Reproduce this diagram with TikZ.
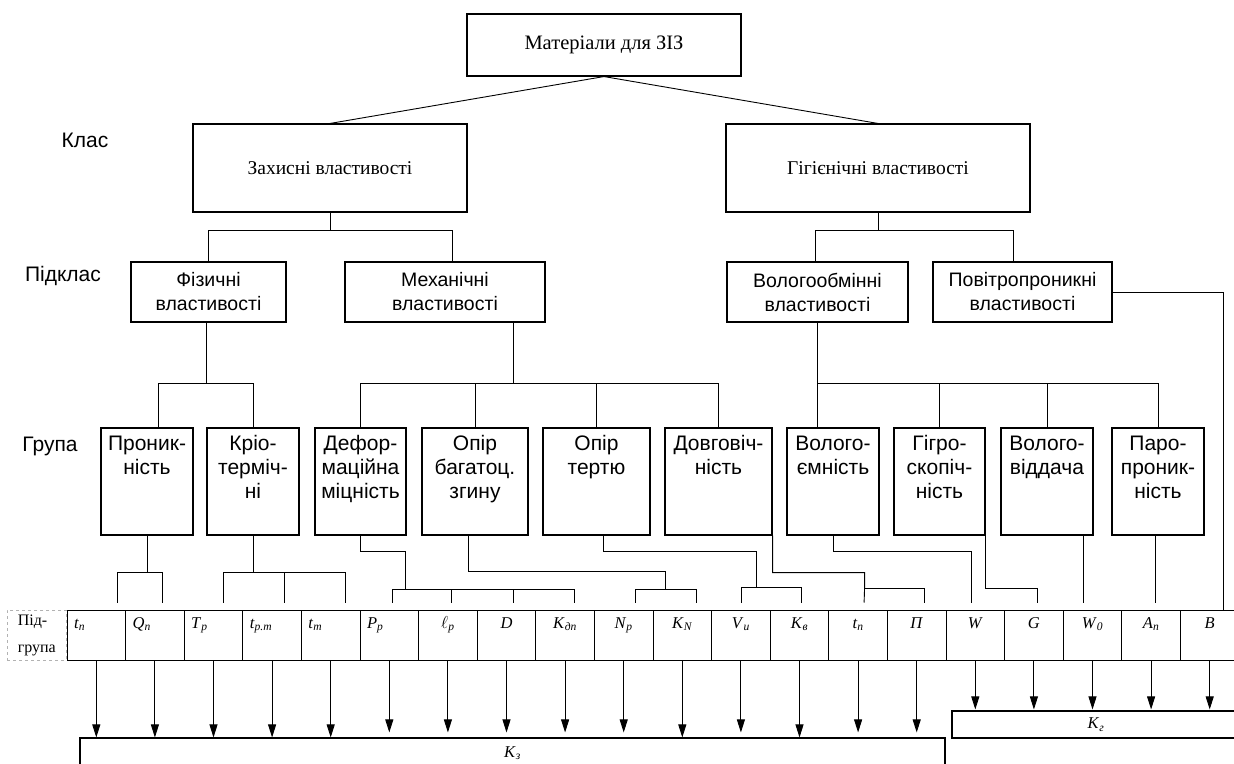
\documentclass[tikz,border=0pt]{standalone}
\usepackage{fontspec}
\setmainfont{Liberation Serif}
\newfontfamily\sansf{Liberation Sans}
\usetikzlibrary{arrows.meta,positioning}
\newcommand{\ps}[2]{\textit{#1}\textsubscript{\textit{#2}}}

\begin{document}
\begin{tikzpicture}[
    x=1pt,y=-1pt,
    box/.style={rectangle,draw,line width=1.1pt,align=center,inner sep=2pt},
    topbox/.style={box,minimum height=62pt,font=\fontsize{20.5}{24}\selectfont},
    clsbox/.style={box,minimum height=88pt,font=\fontsize{19.5}{24}\selectfont},
    subbox/.style={box,minimum height=60pt,font=\sansf\fontsize{19.5}{24}\selectfont},
    grpbox/.style={box,minimum height=107pt},
    grptxt/.style={anchor=north,align=center,inner sep=0pt,yshift=-8pt,
      font=\sansf\fontsize{21}{24}\selectfont},
    side/.style={font=\sansf\fontsize{21}{24}\selectfont},
    cell/.style={rectangle,draw,line width=1pt,text width=44.6pt,inner xsep=7pt,
      text height=11pt,text depth=25pt,inner ysep=7pt,align=center,
      font=\fontsize{16.5}{18}\selectfont},
    cellL/.style={cell,align=left},
    link/.style={line width=0.9pt},
    arrow/.style={-{Triangle[length=13pt,width=8pt]},line width=0.9pt}
  ]
    \useasboundingbox (0,0) rectangle (1234,763);

    \node[topbox,minimum width=274pt] (mat) at (604,45) {Матеріали для ЗІЗ};
    \node[clsbox,minimum width=274pt] (zakh) at (330,168) {Захисні властивості};
    \node[clsbox,minimum width=304pt] (gig) at (878,168) {Гігієнічні властивості};

    \node[side] (klas) at (85,140) {Клас};
    \node[side] (pidklas) at (63,276) {Підклас};
    \node[side] (grupa) at (50,446) {Група};

    \node[subbox,minimum width=155pt] (fiz) at (208.5,292) {Фізичні\\властивості};
    \node[subbox,minimum width=200pt] (mekh) at (445,292) {Механічні\\властивості};
    \node[subbox,minimum width=181pt] (volog) at (817.5,292) {Вологообмінні\\властивості};
    \node[subbox,minimum width=179pt] (povitr) at (1022.5,292) {Повітропроникні\\властивості};

    % groups
    \foreach \n/\x/\w/\t in {pron/147/92/{Проник-\\ність},
        krio/253/92/{Кріо-\\терміч-\\ні},
        def/360.5/91/{Дефор-\\маційна\\міцність},
        opir/475/106/{Опір\\багатоц.\\згину},
        tert/596.5/107/{Опір\\тертю},
        dovg/718.5/107/{Довговіч-\\ність},
        vol/833/92/{Волого-\\ємність},
        gigro/939.5/91/{Гігро-\\скопіч-\\ність},
        vidd/1047/92/{Волого-\\віддача},
        paro/1158/92/{Паро-\\проник-\\ність}}{
      \node[grpbox,minimum width=\w pt] (\n) at (\x,481.5) {};
      \node[grptxt] (\n-t) at (\n.north) {\t};
    }

    % subgroups
    \foreach \i/\s/\t in {1/cellL/{\ps{t}{п}},2/cellL/{\ps{Q}{п}},3/cellL/{\ps{T}{р}},
        4/cellL/{\ps{t}{р.т}},5/cellL/{\ps{t}{т}},6/cellL/{\ps{P}{р}},
        7/cell/{\ps{$\ell$}{р}},8/cell/{\textit{D}},9/cell/{\ps{K}{дп}},
        10/cell/{\ps{N}{р}},11/cell/{\ps{K}{N}},12/cell/{\ps{V}{u}},
        13/cell/{\ps{K}{в}},14/cell/{\ps{t}{п}},15/cell/{\textit{П}},
        16/cell/{\textit{W}},17/cell/{\textit{G}},18/cell/{\ps{W}{0}},
        19/cell/{\ps{A}{п}},20/cell/{\textit{B}}}
      \node[\s] (c\i) at ({67+58.6*\i-29.3},635) {\t};
    \node[draw=gray!60,dashed,minimum width=59pt,minimum height=50pt,align=left,
      font=\fontsize{16}{27}\selectfont,left=0pt of c1] (pidgr) {Під-\\група};

    \node[box,minimum width=865pt,minimum height=30pt,font=\fontsize{16.5}{18}\selectfont] (kz) at (512.5,753) {\ps{K}{з}};
    \node[box,minimum width=288pt,minimum height=27pt,font=\fontsize{16.5}{18}\selectfont] (kg) at (1096,724.5) {\ps{K}{г}};

    % tree
    \draw[link] (mat.south) -- (zakh.north);
    \draw[link] (mat.south) -- (gig.north);
    \draw[link] (zakh.south) -- ++(0,18) coordinate (jz);
    \draw[link] (fiz.north) |- (jz) -| ([xshift=7pt]mekh.north);
    \draw[link] (gig.south) -- ++(0,18) coordinate (jg);
    \draw[link] ([xshift=-2pt]volog.north) |- (jg) -| ([xshift=-9pt]povitr.north);

    \draw[link] ([xshift=-2pt]fiz.south) -- ++(0,61) coordinate (jf);
    \draw[link] ([xshift=11pt]pron.north) |- (jf) -| (krio.north);
    \draw[link] ([xshift=68pt]mekh.south) -- ++(0,61) coordinate (jm);
    \draw[link] (def.north) |- (jm) -| (dovg.north);
    \draw[link] (opir.north) -- (opir.north |- jm);
    \draw[link] (tert.north) -- (tert.north |- jm);
    \draw[link] (volog.south) -- ++(0,61) coordinate (jv) -- (jv |- vol.north);
    \draw[link] (jv) -| (paro.north);
    \draw[link] (gigro.north) -- (gigro.north |- jv);
    \draw[link] (vidd.north) -- (vidd.north |- jv);
    \draw[link] (povitr.east) -| ([xshift=14pt]c20.north);

    % group to subgroup
    \foreach \i/\dx in {1/21,2/8,3/10,4/12,5/15,6/3,7/4,8/7,9/9,10/12,
        11/14,12/1,13/2,14/6,15/8,16/-4,17/4,18/-9,19/4}
      \coordinate (p\i) at ([xshift=\dx pt,yshift=7pt]c\i.north);
    \draw[link] (pron.south) -- ++(0,37) coordinate (g1);
    \draw[link] (p1) |- (g1) -| (p2);
    \draw[link] (krio.south) -- ++(0,37) coordinate (g2);
    \draw[link] (p3) |- (g2) -| (p5);
    \draw[link] (p4) -- (p4 |- g2);
    \draw[link] (def.south) -- ++(0,16) -| ++(45,38) coordinate (g3);
    \draw[link] (p6) |- (g3) -| (p9);
    \draw[link] (p7) -- (p7 |- g3);
    \draw[link] (p8) -- (p8 |- g3);
    \draw[link] ([xshift=-7pt]opir.south) -- ++(0,36) -| ++(197,18) coordinate (g4);
    \draw[link] (p10) |- (g4) -| (p11);
    \draw[link] ([xshift=7pt]tert.south) -- ++(0,16) -| ++(153,36) coordinate (g5);
    \draw[link] (p12) |- (g5) -| (p13);
    \draw[link] (dovg.south east) -- ++(0,37) -| ++(92,16) coordinate (g6) -- (p14);
    \draw[link] (g6) -| (p15);
    \draw[link] (vol.south) -- ++(0,16) -| (p16);
    \draw[link] (gigro.south east) -- ++(0,53) -| (p17);
    \draw[link] (vidd.south -| p18) -- (p18);
    \draw[link] (paro.south -| p19) -- (p19);

    % to the sums
    \foreach \i/\e in {1/0,2/0,3/0,4/0,5/0,6/5,7/5,8/5,9/5,10/5,11/0,12/5,13/0,14/5,15/5}
      \draw[arrow,shorten >=\e pt] (c\i.south) -- (c\i.south |- kz.north);
    \foreach \i in {16,...,20}
      \draw[arrow,shorten >=1pt] (c\i.south) -- (c\i.south |- kg.north);
  \end{tikzpicture}
\end{document}
